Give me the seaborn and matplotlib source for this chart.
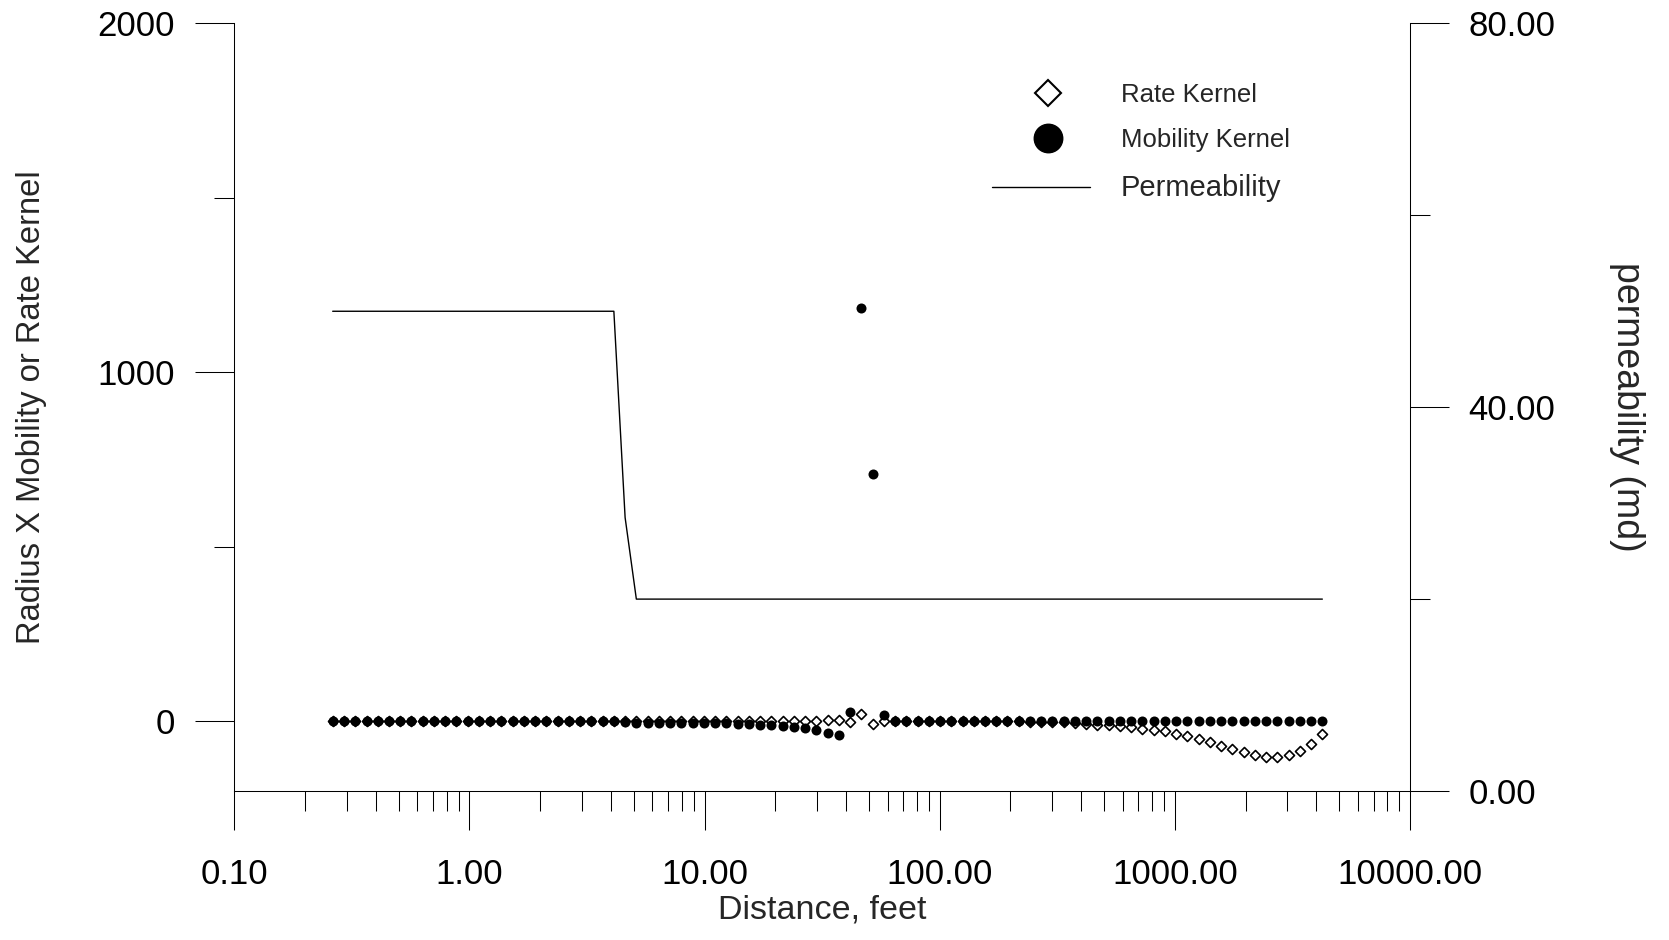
import numpy as np
import pandas as pd
import matplotlib
matplotlib.use("Agg")
import matplotlib.pyplot as plt
import seaborn as sns
from matplotlib.lines import Line2D
from matplotlib.legend_handler import HandlerLine2D
from matplotlib.ticker import FuncFormatter, LogLocator, NullFormatter, FixedLocator

# ---------------- data ----------------
distance_ft = [
    0.262, 0.292, 0.327, 0.365, 0.407, 0.455, 0.507, 0.566, 0.632, 0.706,
    0.788, 0.880, 0.983, 1.097, 1.225, 1.367, 1.526, 1.704, 1.902, 2.124,
    2.371, 2.647, 2.956, 3.300, 3.684, 4.113, 4.592, 5.126, 5.722, 6.389,
    7.133, 7.963, 8.889, 9.926, 11.08, 12.37, 13.81, 15.42, 17.21, 19.21,
    21.45, 23.95, 26.74, 29.86, 33.34, 37.22, 41.54, 46.39, 51.79, 57.81,
    64.55, 72.07, 80.45, 89.82, 100.3, 111.9, 125.0, 139.5, 155.8, 173.9,
    194.1, 216.8, 242.0, 270.2, 301.7, 336.8, 376.0, 419.8, 468.7, 523.2,
    584.2, 652.2, 728.1, 812.8, 907.4, 1013, 1131, 1262, 1410, 1574,
    1757, 1961, 2190, 2444, 2729, 3047, 3401, 3797, 4240,
]

rate_kernel = [
    0, 0, 0, 0, 0, 0, 0, 0, 0, 0,
    0, 0, 0, 0, 0, 0, 0, 0, 0, 0,
    0, 0, 0, 0, 0, 0, 0, 0, 0, 0,
    0, 0, 0, 0, 0, 1, 1, 1, 2, 2,
    2, 2, 2, 1, 4, 4, -2, 21, -8, 0,
    0, 0, 0, 0, 0, 0, 0, 0, 0, 0,
    0, 0, -1, -1, -2, -3, -6, -8, -10, -12,
    -14, -17, -22, -25, -29, -36, -42, -51, -59, -70,
    -80, -89, -96, -102, -103, -98, -84, -64, -36,
]

mobility_kernel = [
    0, 0, 0, 0, 0, 0, 0, 0, 0, 0,
    0, 0, 0, 0, 0, 0, 0, 0, 0, 0,
    0, 0, 0, 0, 0, 0, -2, -4, -4, -4,
    -4, -4, -5, -5, -6, -6, -7, -8, -10, -12,
    -13, -16, -20, -26, -33, -39, 27, 1185, 708, 17,
    0, 0, 0, 0, 0, 0, 0, 0, 0, 0,
    0, 0, 0, 0, 0, 0, 0, 0, 0, 0,
    0, 0, 0, 0, 0, 0, 0, 0, 0, 0,
    0, 0, 0, 0, 0, 0, 0, 0, 0,
]

perm_distance_ft = [0.262, 4.113, 4.592, 5.126, 4240]
permeability_md = [50, 50, 28.5, 20, 20]

x_major_ticks = [0.1, 1, 10, 100, 1000, 10000]
left_major_ticks = [0, 1000, 2000]
left_minor_ticks = [500, 1500]
right_major_ticks = [0, 40, 80]
right_minor_ticks = [20, 60]

legend_labels = ["Rate Kernel", "Mobility Kernel", "Permeability"]

kernels = pd.DataFrame({"distance": distance_ft,
                        "rate": rate_kernel,
                        "mobility": mobility_kernel})
perm = pd.DataFrame({"distance": perm_distance_ft, "perm": permeability_md})

# ---------------- style ----------------
sns.set_style("ticks")
plt.rcParams["font.family"] = ["Liberation Sans", "DejaVu Sans"]

fig = plt.figure(figsize=(16.69, 9.40), dpi=100)
ax = fig.add_axes([0.1404, 0.1585, 0.7044, 0.8166])
ax2 = ax.twinx()

# ---------------- marks ----------------
sns.scatterplot(data=kernels, x="distance", y="rate", ax=ax, marker="D",
                s=26, color="white", edgecolor="black", linewidth=1.2,
                zorder=2, legend=False)
sns.scatterplot(data=kernels, x="distance", y="mobility", ax=ax, marker="o",
                s=52, color="black", edgecolor="black", linewidth=0,
                zorder=3, legend=False)
sns.lineplot(data=perm, x="distance", y="perm", ax=ax2, color="black",
             linewidth=1.0, legend=False)

# ---------------- axes ----------------
ax.set_xscale("log")
ax.set_xlim(0.1, 10000)
ax.set_ylim(-200, 2000)
ax2.set_ylim(0, 80)

ax.xaxis.set_major_locator(FixedLocator(x_major_ticks))
ax.xaxis.set_minor_locator(LogLocator(base=10, subs=np.arange(2, 10), numticks=50))
ax.xaxis.set_minor_formatter(NullFormatter())
ax.xaxis.set_major_formatter(FuncFormatter(lambda v, p: f"{v:.2f}"))

ax.set_yticks(left_major_ticks)
ax.set_yticks(left_minor_ticks, minor=True)
ax.yaxis.set_major_formatter(FuncFormatter(lambda v, p: f"{v:.0f}"))
ax2.set_yticks(right_major_ticks)
ax2.set_yticks(right_minor_ticks, minor=True)
ax2.yaxis.set_major_formatter(FuncFormatter(lambda v, p: f"{v:.2f}"))

for a in (ax, ax2):
    a.tick_params(which="major", length=28, width=0.75, direction="out",
                  colors="black", labelsize=25)
    a.tick_params(which="minor", length=14.4, width=0.75, direction="out",
                  colors="black")
ax.tick_params(axis="x", which="major", pad=20)
ax.tick_params(axis="y", which="major", pad=15)
ax2.tick_params(axis="y", which="major", pad=14)
ax.tick_params(axis="y", which="both", right=False)

ax.spines["top"].set_visible(False)
ax.spines["right"].set_visible(False)
for s in ("top", "left", "bottom"):
    ax2.spines[s].set_visible(False)
for a in (ax, ax2):
    for s in a.spines.values():
        s.set_linewidth(0.75)
        s.set_color("black")

ax.set_xlabel("Distance, feet", fontsize=24.5, va="center")
ax.xaxis.set_label_coords(0.5, -0.155)
ax.set_ylabel("Radius X Mobility or Rate Kernel", fontsize=23.6, va="center")
ax.yaxis.set_label_coords(-0.1729, 0.5)
ax2.set_ylabel("permeability (md)", fontsize=27, rotation=270, va="center")
ax2.yaxis.set_label_coords(1.185, 0.5)


# ---------------- legend ----------------
class ShiftedMarkerHandler(HandlerLine2D):
    """Marker-only legend handle drawn slightly right of the handle centre."""
    def __init__(self, shift, **kw):
        super().__init__(numpoints=1, **kw)
        self.shift = shift

    def create_artists(self, legend, orig_handle, xdescent, ydescent,
                       width, height, fontsize, trans):
        return super().create_artists(legend, orig_handle,
                                      xdescent - self.shift, ydescent,
                                      width, height, fontsize, trans)


h_rate = Line2D([0], [0], marker="D", ls="none", ms=13.3, mfc="white",
                mec="black", mew=1.5)
h_mob = Line2D([0], [0], marker="o", ls="none", ms=20.5, mfc="black",
               mec="black")
h_perm = Line2D([0], [0], color="black", lw=1.0)

leg = ax2.legend([h_rate, h_mob, h_perm], legend_labels, loc="upper left",
                 bbox_to_anchor=(0.6445, 0.923), frameon=False,
                 prop={"size": 18.5},
                 handlelength=3.8, handletextpad=1.2, labelspacing=0.85,
                 borderpad=0, borderaxespad=0,
                 handler_map={h_rate: ShiftedMarkerHandler(5.5),
                              h_mob: ShiftedMarkerHandler(5.5)})
leg.get_texts()[2].set_fontsize(21)

fig.savefig("out.png", dpi=100)
